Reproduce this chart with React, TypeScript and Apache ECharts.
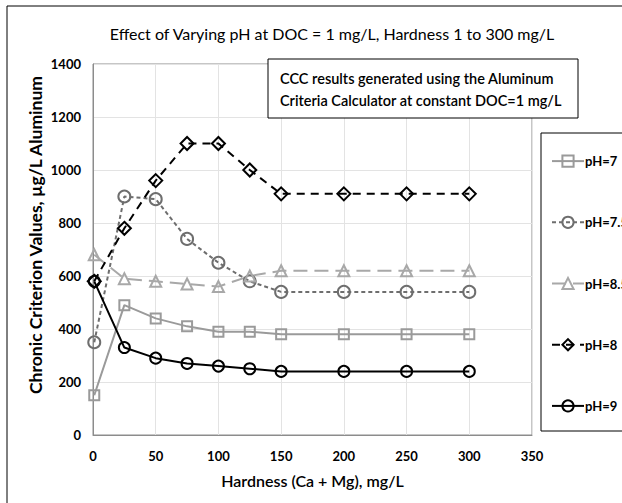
import React, { useEffect, useRef } from "react";
import * as echarts from "echarts";

const hardness = [1, 25, 50, 75, 100, 125, 150, 200, 250, 300];
const ph7 = [150, 490, 440, 410, 390, 390, 380, 380, 380, 380];
const ph75 = [350, 900, 890, 740, 650, 580, 540, 540, 540, 540];
const ph85 = [680, 590, 580, 570, 560, 600, 620, 620, 620, 620];
const ph8 = [580, 780, 960, 1100, 1100, 1000, 910, 910, 910, 910];
const ph9 = [580, 330, 290, 270, 260, 250, 240, 240, 240, 240];
const legendOrder = ["pH=7", "pH=7.5", "pH=8.5", "pH=8", "pH=9"];

const FONT = "Lato";

function pairs(ys: number[]) {
  return hardness.map((x, i) => [x, ys[i]]);
}

export default function App() {
  const ref = useRef<HTMLDivElement>(null);
  useEffect(() => {
    const chart = echarts.init(ref.current!, null, { renderer: "svg" });
    const mk = (
      name: string,
      ys: number[],
      color: string,
      type: any,
      symbol: string,
      size: number
    ) => ({
      name,
      type: "line",
      data: pairs(ys),
      symbol,
      symbolSize: size,
      lineStyle: { color, width: 2, type },
      itemStyle: { color: "none", borderColor: color, borderWidth: 2 },
      emphasis: { disabled: true },
    });
    chart.setOption({
      animation: false,
      textStyle: { fontFamily: FONT },
      title: {
        text: "Effect of Varying pH at DOC = 1 mg/L, Hardness 1 to 300 mg/L",
        left: 327,
        textAlign: "center",
        top: 20,
        textStyle: { fontSize: 16, fontWeight: "normal", color: "#000", fontFamily: FONT },
      },
      grid: { left: 93, right: 90, top: 64, bottom: 68, show: true, borderColor: "#8c8c8c", borderWidth: 1 },
      xAxis: {
        type: "value",
        min: 0,
        max: 350,
        interval: 50,
        name: "Hardness (Ca + Mg), mg/L",
        nameLocation: "middle",
        nameGap: 37,
        nameTextStyle: { fontSize: 16, fontWeight: 600, color: "#000", fontFamily: FONT },
        axisLine: { lineStyle: { color: "#8c8c8c" } },
        axisTick: { show: false },
        axisLabel: { fontSize: 13, fontWeight: 700, color: "#000", margin: 14, fontFamily: FONT },
        splitLine: { lineStyle: { color: "#e3e3e3" } },
      },
      yAxis: {
        type: "value",
        min: 0,
        max: 1400,
        interval: 200,
        axisLine: { show: true, lineStyle: { color: "#8c8c8c" } },
        axisTick: { show: false },
        axisLabel: {
          fontSize: 13,
          fontWeight: 700,
          color: "#000",
          margin: 12,
          fontFamily: FONT,
          formatter: (v: number) => String(v),
        },
        splitLine: { lineStyle: { color: "#e3e3e3" } },
      },
      legend: {
        orient: "vertical",
        left: 546,
        top: 148,
        itemWidth: 32,
        itemHeight: 14,
        itemGap: 45,
        data: legendOrder,
        textStyle: {
          fontSize: 13,
          lineHeight: 14,
          fontWeight: 700,
          color: "#000",
          fontFamily: FONT,
          padding: [0, 0, 0, -4],
        },
        selectedMode: false,
      },
      graphic: [
        {
          type: "rect",
          shape: { x: 7, y: 6, width: 800, height: 700 },
          style: { fill: "none", stroke: "#000", lineWidth: 1 },
          z: -1,
        },
        {
          type: "rect",
          shape: { x: 541, y: 133, width: 200, height: 298 },
          style: { fill: "#fff", stroke: "#000", lineWidth: 1 },
          z: 0,
        },
        {
          type: "rect",
          shape: { x: 268, y: 59, width: 310, height: 59 },
          style: { fill: "#fff", stroke: "#000", lineWidth: 1 },
          z: 10,
        },
        {
          type: "text",
          x: 280,
          y: 67,
          z: 11,
          style: {
            text: "CCC results generated using the Aluminum\nCriteria Calculator at constant DOC=1 mg/L",
            fontSize: 14.5,
            fontWeight: 600,
            fontFamily: FONT,
            fill: "#000",
            lineHeight: 22,
          },
        },
        {
          type: "text",
          x: 35,
          y: 235,
          rotation: Math.PI / 2,
          z: 11,
          style: {
            text: "Chronic Criterion Values, µg/L Aluminum",
            fontSize: 17.5,
            fontWeight: 700,
            fontFamily: FONT,
            fill: "#000",
            align: "center",
            verticalAlign: "middle",
          },
        },
      ],
      series: [
        mk("pH=7", ph7, "#9a9a9a", "solid", "rect", 10),
        mk("pH=7.5", ph75, "#6e6e6e", [4, 3], "circle", 12),
        mk("pH=8.5", ph85, "#a8a8a8", [14, 7], "triangle", 11),
        mk("pH=8", ph8, "#000000", [8, 6], "diamond", 13),
        mk("pH=9", ph9, "#000000", "solid", "circle", 11),
      ],
    });
    return () => chart.dispose();
  }, []);
  return (
    <div
      ref={ref}
      style={{ position: "fixed", left: 0, top: 0, width: 622, height: 503, background: "#fff" }}
    />
  );
}
